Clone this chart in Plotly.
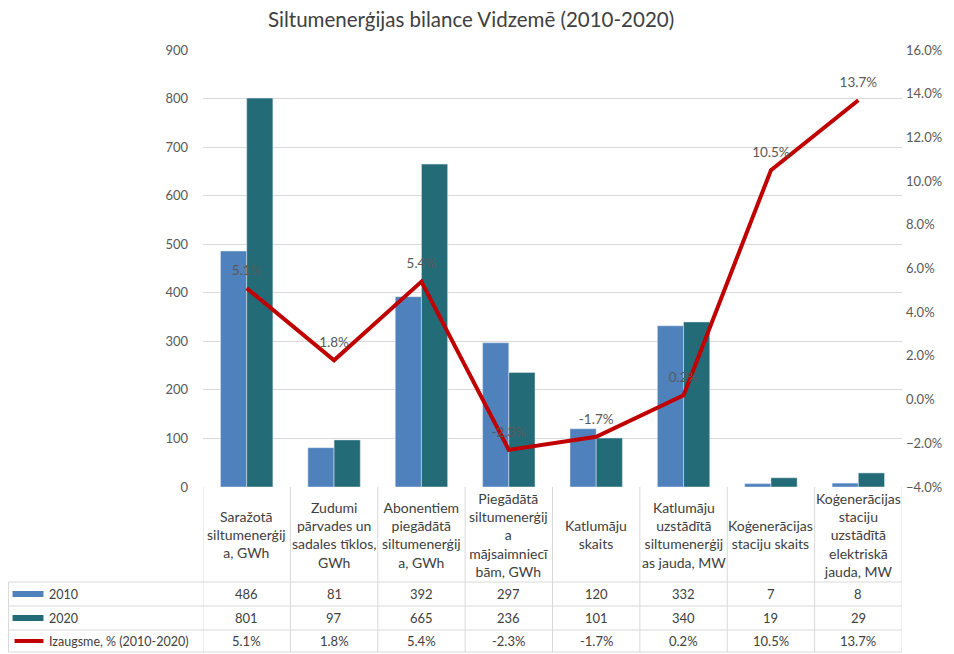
import plotly.graph_objects as go

categories = [
    "Saražotā<br>siltumenerģij<br>a, GWh",
    "Zudumi<br>pārvades un<br>sadales tīklos,<br>GWh",
    "Abonentiem<br>piegādātā<br>siltumenerģij<br>a, GWh",
    "Piegādātā<br>siltumenerģij<br>a<br>mājsaimniecī<br>bām, GWh",
    "Katlumāju<br>skaits",
    "Katlumāju<br>uzstādītā<br>siltumenerģij<br>as jauda, MW",
    "Koģenerācijas<br>staciju skaits",
    "Koģenerācijas<br>staciju<br>uzstādītā<br>elektriskā<br>jauda, MW",
]
values_2010 = [486, 81, 392, 297, 120, 332, 7, 8]
values_2020 = [801, 97, 665, 236, 101, 340, 19, 29]
growth = [0.051, 0.018, 0.054, -0.023, -0.017, 0.002, 0.105, 0.137]
series_names = ["2010", "2020", "Izaugsme, % (2010-2020)"]
title_text = "Siltumenerģijas bilance Vidzemē (2010-2020)"

FONT = "Lato"
BLUE = "#4F81BD"
TEAL = "#246B78"
RED = "#C00000"
GRID = "#D9D9D9"
TXT = "#404040"

idx = list(range(len(categories)))

fig = go.Figure()
fig.add_trace(go.Bar(x=idx, y=values_2010, name=series_names[0], marker_color=BLUE))
fig.add_trace(go.Bar(x=idx, y=values_2020, name=series_names[1], marker_color=TEAL))
fig.add_trace(go.Scatter(
    x=idx, y=growth, name=series_names[2], yaxis="y2",
    mode="lines+markers+text",
    line=dict(color=RED, width=4),
    marker=dict(size=14, color="rgba(0,0,0,0)"),
    text=[f"{g*100:.1f}%" for g in growth],
    textposition="top center",
    textfont=dict(family=FONT, size=13.5, color="#595959"),
    cliponaxis=False,
))

# page body has an 8px margin; figure coordinates = reference pixels - 8
OFF = 8
FW, FH = 954 - OFF, 654 - OFF
L, R, T, B = 203, 904, 50, 487  # reference-pixel plot area
W, H = R - L, B - T
def py(p):
    return (B - p) / H
def px(p):
    return (p - L) / W

shapes = []
annotations = []
row_lines = [582, 606, 630, 652]
for yl in row_lines:
    shapes.append(dict(type="line", xref="paper", yref="paper", x0=px(8), x1=1, y0=py(yl), y1=py(yl),
                       line=dict(color=GRID, width=1)))
shapes.append(dict(type="line", xref="paper", yref="paper", x0=px(8), x1=px(8), y0=py(582), y1=py(652),
                   line=dict(color=GRID, width=1)))
for i in range(len(categories) + 1):
    shapes.append(dict(type="line", xref="x", yref="paper", x0=i - 0.5, x1=i - 0.5, y0=0, y1=py(652),
                       line=dict(color=GRID, width=1)))

for i, c in enumerate(categories):
    annotations.append(dict(x=i, y=py(534.5), xref="x", yref="paper", text=c, showarrow=False,
                            font=dict(family=FONT, size=14, color=TXT), align="center",
                            xanchor="center", yanchor="middle"))

row_centers = [594, 618, 641]
row_values = [[str(v) for v in values_2010], [str(v) for v in values_2020],
              [f"{g*100:.1f}%" for g in growth]]
for r, (yc, vals) in enumerate(zip(row_centers, row_values)):
    for i, v in enumerate(vals):
        annotations.append(dict(x=i, y=py(yc), xref="x", yref="paper", text=v, showarrow=False,
                                font=dict(family=FONT, size=13, color=TXT),
                                xanchor="center", yanchor="middle"))
    annotations.append(dict(x=px(47), y=py(yc), xref="paper", yref="paper", text=series_names[r],
                            showarrow=False, font=dict(family=FONT, size=12.5, color=TXT),
                            xanchor="left", yanchor="middle"))

# chart title as an annotation above the plot area
annotations.append(dict(x=px(472), y=py(19), xref="paper", yref="paper", text=title_text,
                        showarrow=False, font=dict(family=FONT, size=20.5, color=TXT),
                        xanchor="center", yanchor="middle"))

# legend keys in the table
shapes.append(dict(type="rect", xref="paper", yref="paper", x0=px(12), x1=px(43), y0=py(597), y1=py(591),
                   fillcolor=BLUE, line=dict(width=0)))
shapes.append(dict(type="rect", xref="paper", yref="paper", x0=px(12), x1=px(43), y0=py(621), y1=py(615),
                   fillcolor=TEAL, line=dict(width=0)))
shapes.append(dict(type="line", xref="paper", yref="paper", x0=px(14), x1=px(43), y0=py(641), y1=py(641),
                   line=dict(color=RED, width=4)))

fig.update_layout(
    width=FW, height=FH,
    margin=dict(l=L - OFF, r=954 - R, t=T - OFF, b=654 - B),
    plot_bgcolor="white", paper_bgcolor="white",
    barmode="group", bargap=0.4, bargroupgap=0,
    showlegend=False,
    xaxis=dict(range=[-0.5, len(categories) - 0.5], showticklabels=False, showgrid=False,
               zeroline=False, showline=False, ticks=""),
    yaxis=dict(range=[0, 900], dtick=100, showgrid=True, gridcolor=GRID, gridwidth=1,
               zeroline=False, showline=False, ticks="", ticklabelstandoff=14,
               tickfont=dict(family=FONT, size=13, color="#595959")),
    yaxis2=dict(range=[-0.04, 0.16], dtick=0.02, tickformat=".1%", overlaying="y", side="right",
                showgrid=False, zeroline=False, showline=False, ticks="", ticklabelstandoff=3,
                tickfont=dict(family=FONT, size=13, color="#595959")),
    shapes=shapes, annotations=annotations,
    font=dict(family=FONT),
)

fig.write_html("out.html")
